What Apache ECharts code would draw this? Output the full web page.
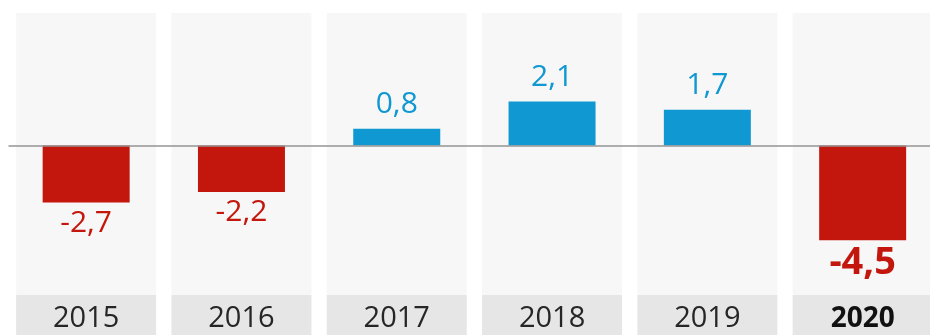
<!DOCTYPE html>
<html>
<head>
<meta charset="utf-8">
<script src="https://cdn.jsdelivr.net/npm/echarts@6/dist/echarts.min.js"></script>
<style>
  html, body { margin: 0; padding: 0; background: #ffffff; }
  #chart { width: 930px; height: 335px; }
</style>
</head>
<body>
<div id="chart"></div>
<script>
// Annual change, per cent
const years = ['2015', '2016', '2017', '2018', '2019', '2020'];
const growth = [-2.7, -2.2, 0.8, 2.1, 1.7, -4.5];
const highlightYear = '2020';

const RED = '#c3170d';
const BLUE = '#0f98d1';
const FONT = '"Open Sans", "Noto Sans", sans-serif';

const fmt = v => v.toFixed(1).replace('.', ',');

const chart = echarts.init(document.getElementById('chart'), null, { renderer: 'canvas' });

const barData = growth.map((v, i) => {
  const hi = years[i] === highlightYear;
  const neg = v < 0;
  const col = neg ? RED : BLUE;
  return {
    value: v,
    itemStyle: { color: col },
    label: {
      show: true,
      position: neg ? 'bottom' : 'top',
      distance: hi ? 4 : (neg ? 6 : 9),
      color: col,
      fontSize: hi ? 38 : 30,
      fontWeight: hi ? 'bold' : 'normal',
      fontFamily: FONT,
      formatter: p => fmt(p.value)
    }
  };
});

chart.setOption({
  animation: false,
  backgroundColor: '#ffffff',
  grid: {
    left: 8.5, top: 13, width: 931.8, height: 282,
    outerBoundsMode: 'none'
  },
  xAxis: {
    type: 'category',
    data: years.map(y => y === highlightYear
      ? { value: y, textStyle: { fontWeight: 'bold', color: '#111', fontSize: 28 } }
      : y),
    axisLine: { show: false },
    axisTick: { show: false },
    splitLine: { show: false },
    axisLabel: {
      interval: 0,
      margin: 0,
      width: 140,
      height: 40,
      lineHeight: 48,
      align: 'center',
      verticalAlign: 'top',
      backgroundColor: '#e6e6e6',
      fontSize: 29,
      color: '#262626',
      fontFamily: FONT
    }
  },
  yAxis: {
    type: 'value',
    min: -7.1,
    max: 6.3,
    show: false,
    splitLine: { show: false }
  },
  series: [
    {
      // light column panels behind each year
      type: 'custom',
      z: 0,
      silent: true,
      data: years.map((y, i) => i),
      renderItem: (params, api) => {
        const cs = params.coordSys;
        const cx = api.coord([api.value(0), 0])[0];
        return {
          type: 'rect',
          shape: { x: cx - 70, y: cs.y, width: 140, height: cs.height },
          style: { fill: '#f7f7f7' }
        };
      }
    },
    {
      type: 'bar',
      z: 2,
      barWidth: 87,
      data: barData,
      markLine: {
        silent: true,
        symbol: 'none',
        label: { show: false },
        lineStyle: { color: '#959595', width: 1.5, type: 'solid' },
        data: [{ yAxis: 0 }]
      }
    }
  ]
});
</script>
</body>
</html>
